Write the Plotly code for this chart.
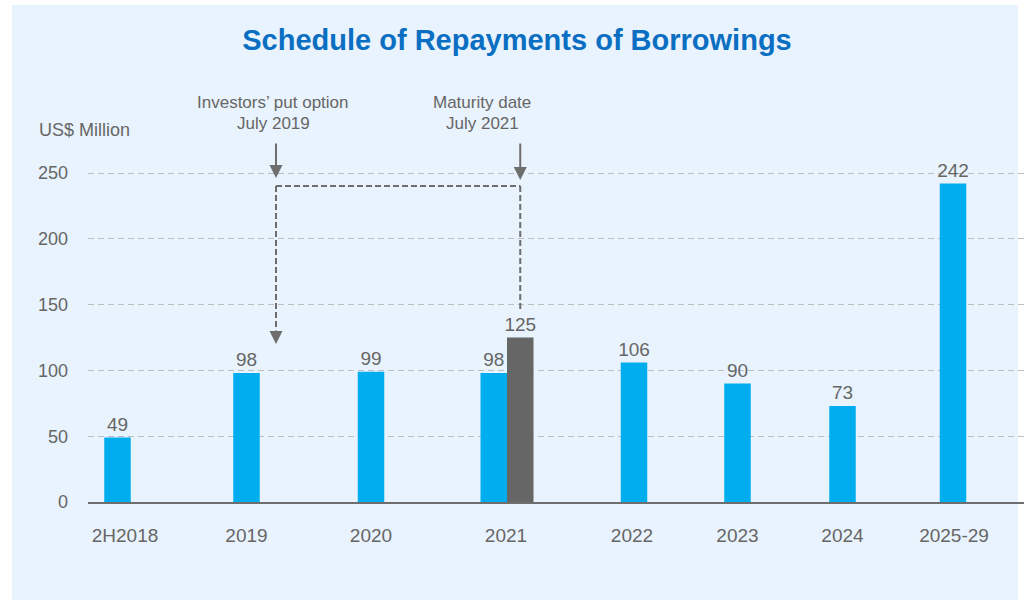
import plotly.graph_objects as go

# ---- data ----
categories = ["2H2018", "2019", "2020", "2021", "2022", "2023", "2024", "2025-29"]
blue_values = [49, 98, 99, 98, 106, 90, 73, 242]
grey_values = [None, None, None, 125, None, None, None, None]
y_ticks = [0, 50, 100, 150, 200, 250]
y_title = "US$ Million"
chart_title = "Schedule of Repayments of Borrowings"
note_left = ["Investors\u2019 put option", "July 2019"]
note_right = ["Maturity date", "July 2021"]

# ---- layout (slot positions of the categories along the x axis) ----
slot_x = [117.5, 246.5, 371, 507, 634, 737.5, 842.5, 953]
tick_x = [125, 246.5, 371, 506, 632, 737.5, 842.5, 954]
bar_w = 26.5
X_RANGE = [88, 1024]
Y_RANGE = [0, 320.7]

BLUE = "#00AEEF"
GREY_BAR = "#666666"
TXT = "#666666"
LINE = "#6e6e6e"
BG = "#E9F3FD"
FONT = "Liberation Sans, Arial, sans-serif"

# bar x positions: split the slot when both series have a value
blue_x, grey_x = [], []
for p, g in zip(slot_x, grey_values):
    if g is None:
        blue_x.append(p)
        grey_x.append(p)
    else:
        blue_x.append(p - bar_w / 2)
        grey_x.append(p + bar_w / 2)

fig = go.Figure()
fig.add_trace(go.Bar(
    x=blue_x, y=blue_values, width=bar_w, marker_color=BLUE, marker_line_width=0,
    text=[str(v) for v in blue_values], textposition="outside", constraintext="none",
    textfont=dict(family=FONT, size=19, color=TXT), cliponaxis=False,
    hoverinfo="skip", showlegend=False))
fig.add_trace(go.Bar(
    x=grey_x, y=grey_values, width=bar_w, marker_color=GREY_BAR, marker_line_width=0,
    text=["" if v is None else str(v) for v in grey_values], textposition="outside",
    constraintext="none", textfont=dict(family=FONT, size=19, color=TXT),
    cliponaxis=False, hoverinfo="skip", showlegend=False))

# panel background
plot_l, plot_r, plot_t, plot_b = 88, 1024, 80, 502
pw, ph = plot_r - plot_l, plot_b - plot_t
def px(xp):
    return (xp - plot_l) / pw
def py(yp):
    return (plot_b - yp) / ph
def yv(yp):
    return (plot_b - yp) / ph * (Y_RANGE[1] - Y_RANGE[0])

shapes = [dict(type="rect", xref="paper", yref="paper", x0=px(12), x1=px(1018),
               y0=py(600), y1=py(5), fillcolor=BG, line_width=0, layer="below")]

# bracket linking put option (2019) and maturity (2021 grey bar)
left_x = slot_x[1] + 29.5
right_x = grey_x[3]
top_y = yv(186)
dash = dict(color=LINE, width=2, dash="6px,3px")
shapes += [
    dict(type="line", xref="x", yref="y", x0=left_x, x1=right_x, y0=top_y, y1=top_y, line=dash),
    dict(type="line", xref="x", yref="y", x0=left_x, x1=left_x, y0=top_y, y1=yv(330), line=dash),
    dict(type="line", xref="x", yref="y", x0=right_x, x1=right_x, y0=top_y, y1=yv(309), line=dash),
]

annotations = [
    dict(text=y_title, xref="paper", yref="paper", x=px(37), y=py(130), xanchor="left",
         yanchor="middle", showarrow=False, font=dict(family=FONT, size=18, color=TXT)),
]
for lines, cx in ((note_left, 273), (note_right, 482)):
    for t, yy in zip(lines, (102, 123)):
        annotations.append(dict(text=t, xref="x", yref="paper", x=cx, y=py(yy),
                                xanchor="center", yanchor="middle", showarrow=False,
                                font=dict(family=FONT, size=17, color=TXT)))
# solid arrows from notes
for ax_x, tip in ((left_x, 178), (right_x, 180)):
    annotations.append(dict(text="", xref="x", yref="y", axref="x", ayref="y",
                            x=ax_x, y=yv(tip), ax=ax_x, ay=yv(142), showarrow=True,
                            arrowhead=2, arrowsize=1.3, arrowwidth=2, arrowcolor=LINE))
# arrow head at the end of the dashed drop line
annotations.append(dict(text="", xref="x", yref="y", axref="x", ayref="y",
                        x=left_x, y=yv(344), ax=left_x, ay=yv(329), showarrow=True,
                        arrowhead=2, arrowsize=1.3, arrowwidth=2, arrowcolor=LINE))

fig.update_layout(
    width=1028, height=608,
    margin=dict(l=plot_l, r=1028 - plot_r, t=plot_t, b=608 - plot_b, autoexpand=False),
    paper_bgcolor="white", plot_bgcolor="rgba(0,0,0,0)",
    barmode="overlay",
    title=dict(text="<b>" + chart_title + "</b>", x=517 / 1028, xanchor="center",
               y=1 - 40 / 608, yanchor="middle",
               font=dict(family=FONT, size=29, color="#0A6EC2")),
    shapes=shapes, annotations=annotations,
    xaxis=dict(range=X_RANGE, tickvals=tick_x, ticktext=categories, showgrid=False,
               zeroline=False, showline=True, linecolor="#6e6e6e", linewidth=2,
               ticks="", ticklabelstandoff=15,
               tickfont=dict(family=FONT, size=19, color=TXT)),
    yaxis=dict(range=Y_RANGE, tickvals=y_ticks, showgrid=True, gridcolor="#BEBEBE",
               gridwidth=1.3, griddash="6px,4px", zeroline=False, showline=False,
               ticks="", ticklabelstandoff=19,
               tickfont=dict(family=FONT, size=18, color=TXT)),
)

fig.write_html("out.html", config={"displayModeBar": False},
               post_script="document.body.style.margin='0px';")
